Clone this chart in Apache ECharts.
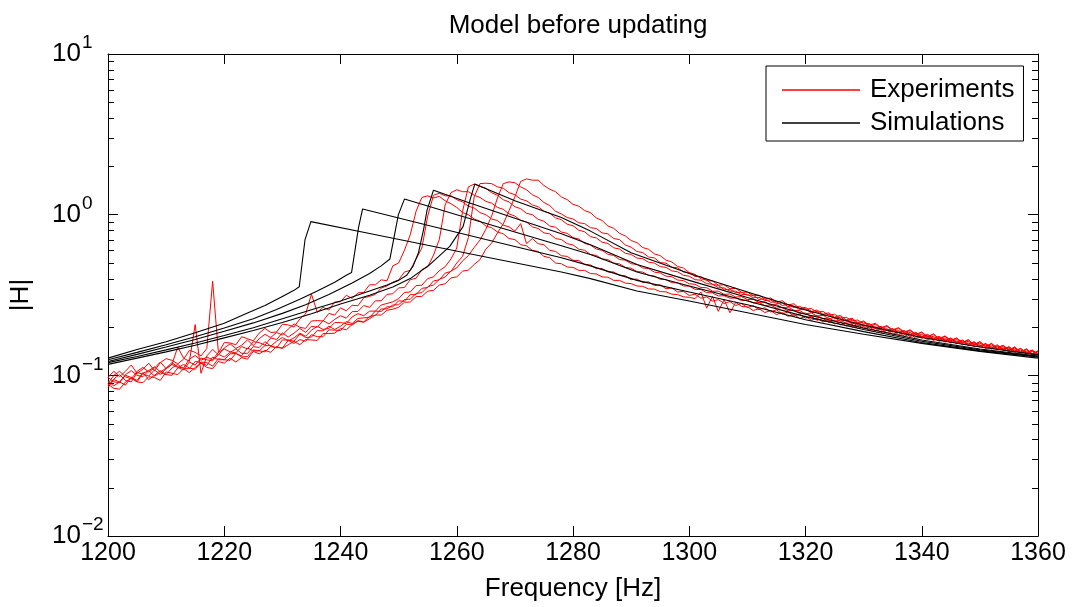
<!DOCTYPE html>
<html><head><meta charset="utf-8">
<script src="https://cdn.jsdelivr.net/npm/echarts@6/dist/echarts.min.js"></script>
<style>html,body{margin:0;padding:0;background:#fff}#c{width:1075px;height:607px}</style>
</head><body><div id="c"></div>
<script>
// ---- sampling grid of the measured curves (1 Hz) ----
const expFreq = Array.from({length: 161}, (_, i) => 1200 + i);

// ---- Experiments (red), |H| per Hz from 1200 to 1360 ----
const exp1 = [
.097,.106,.098,.106,.116,.103,.109,.119,.107,.120,
.127,.124,.118,.126,.143,.139,.132,.147,.385,.138,
.160,.159,.155,.174,.169,.164,.183,.196,.185,.186,
.208,.206,.200,.224,.241,.32,.247,.265,.255,.286,
.287,.315,.301,.326,.328,.366,.366,.393,.388,.48,
.50,.60,.75,1.05,1.28,1.31,1.27,1.30,1.22,1.17,
1.11,1.03,1.00,.94,.91,.85,.83,.78,.76,.71,
.70,.65,.64,.60,.59,.55,.54,.50,.495,.472,
.47,.45,.45,.43,.428,.41,.408,.39,.39,.375,
.372,.36,.358,.345,.344,.332,.331,.32,.318,.308,
.306,.30,.33,.262,.31,.25,.296,.245,.285,.268,
.267,.253,.260,.246,.253,.239,.246,.233,.239,.226,
.233,.220,.227,.215,.220,.209,.214,.203,.208,.196,
.201,.190,.196,.185,.191,.180,.186,.175,.181,.170,
.175,.167,.171,.163,.167,.159,.163,.155,.159,.151,
.155,.147,.151,.144,.148,.140,.145,.137,.141,.134,.136];
const exp2 = [
.089,.100,.106,.098,.095,.106,.112,.105,.111,.121,
.110,.117,.150,.128,.122,.207,.103,.132,.145,.134,
.148,.157,.147,.154,.166,.153,.169,.180,.172,.185,
.178,.194,.209,.199,.196,.218,.219,.218,.243,.237,
.263,.252,.273,.271,.304,.31,.319,.349,.36,.38,
.392,.44,.45,.53,.62,.98,1.32,1.36,1.31,1.31,
1.24,1.20,1.13,1.10,1.03,1.00,.94,.92,.86,.84,
.79,.88,.66,.71,.66,.65,.60,.59,.555,.55,
.52,.518,.49,.486,.462,.462,.44,.44,.418,.416,
.394,.398,.378,.382,.362,.366,.346,.35,.33,.333,
.314,.32,.302,.308,.29,.296,.28,.288,.272,.28,
.264,.272,.256,.264,.248,.256,.241,.248,.234,.24,
.227,.233,.22,.226,.213,.22,.206,.213,.2,.207,
.195,.2,.189,.195,.184,.19,.179,.185,.174,.18,
.17,.176,.165,.171,.161,.167,.157,.163,.153,.159,
.15,.155,.146,.151,.143,.148,.139,.144,.136,.141,.134];
const exp3 = [
.097,.091,.090,.101,.107,.100,.098,.107,.113,.105,
.111,.120,.113,.111,.126,.133,.124,.130,.125,.139,
.146,.140,.138,.151,.146,.162,.160,.154,.171,.167,
.184,.173,.183,.196,.185,.202,.199,.219,.209,.223,
.235,.227,.249,.250,.272,.265,.291,.291,.319,.322,
.35,.352,.394,.402,.455,.473,.56,.70,1.15,1.37,
1.43,1.39,1.39,1.32,1.28,1.21,1.18,1.11,1.08,1.01,
.98,.92,.90,.84,.82,.77,.76,.71,.70,.66,
.648,.61,.60,.565,.558,.53,.525,.50,.494,.47,
.464,.443,.439,.419,.415,.396,.394,.377,.376,.36,
.359,.343,.342,.327,.326,.312,.313,.302,.303,.292,
.294,.282,.284,.272,.274,.262,.264,.252,.254,.242,
.244,.233,.236,.225,.228,.217,.221,.21,.214,.203,
.207,.197,.201,.191,.195,.186,.19,.18,.185,.175,
.18,.171,.175,.166,.171,.162,.167,.158,.163,.154,
.159,.15,.155,.146,.151,.143,.148,.139,.144,.136,.14];
const exp4 = [
.086,.095,.101,.093,.091,.104,.102,.099,.108,.101,
.110,.117,.112,.108,.121,.116,.128,.125,.123,.135,
.130,.139,.146,.137,.137,.151,.149,.162,.152,.163,
.172,.164,.171,.183,.175,.191,.202,.193,.196,.213,
.213,.210,.231,.242,.235,.251,.251,.274,.28,.287,
.30,.328,.33,.362,.364,.40,.41,.448,.474,.53,
.62,1.05,1.49,1.55,1.50,1.46,1.37,1.32,1.24,1.20,
1.12,1.09,1.02,1.00,.935,.91,.85,.835,.78,.765,
.72,.705,.662,.647,.611,.60,.567,.557,.526,.521,
.495,.49,.466,.462,.439,.434,.414,.411,.392,.389,
.371,.369,.352,.351,.334,.334,.319,.321,.307,.309,
.296,.298,.284,.287,.273,.276,.263,.266,.254,.253,
.241,.245,.233,.237,.225,.229,.217,.221,.209,.214,
.202,.207,.196,.201,.19,.195,.185,.19,.179,.185,
.174,.18,.169,.175,.165,.171,.161,.166,.156,.162,
.152,.158,.148,.155,.145,.151,.141,.147,.138,.143,.134];
const exp5 = [
.092,.086,.091,.100,.097,.091,.103,.107,.099,.104,
.101,.111,.117,.110,.110,.122,.120,.115,.130,.125,
.125,.136,.137,.132,.148,.142,.142,.153,.153,.148,
.166,.166,.163,.181,.172,.173,.190,.189,.202,.193,
.202,.216,.210,.226,.228,.229,.251,.250,.267,.267,
.291,.289,.318,.318,.348,.352,.387,.393,.433,.443,
.50,.55,.72,1.29,1.56,1.57,1.56,1.49,1.46,1.37,
1.33,1.25,1.22,1.15,1.12,1.05,1.02,.955,.93,.872,
.853,.80,.783,.73,.717,.674,.662,.622,.611,.575,
.566,.537,.532,.506,.50,.475,.47,.447,.441,.419,
.414,.394,.391,.372,.369,.351,.35,.334,.334,.318,
.319,.304,.306,.292,.294,.28,.282,.268,.27,.256,
.26,.245,.25,.235,.24,.226,.231,.217,.223,.209,
.215,.201,.208,.195,.202,.19,.196,.184,.19,.179,
.185,.173,.18,.168,.175,.164,.17,.159,.166,.155,
.162,.151,.158,.147,.154,.144,.15,.14,.146,.136,.141];
const exp6 = [
.084,.094,.091,.087,.097,.093,.104,.094,.100,.107,
.101,.100,.111,.117,.111,.109,.121,.120,.114,.127,
.125,.124,.137,.130,.131,.144,.142,.140,.151,.149,
.148,.165,.158,.167,.163,.179,.174,.174,.192,.191,
.190,.208,.206,.219,.215,.233,.236,.259,.259,.274,
.275,.296,.298,.323,.327,.356,.365,.396,.409,.446,
.466,.516,.556,.625,.695,.81,.98,1.27,1.56,1.60,
1.58,1.49,1.43,1.33,1.28,1.19,1.14,1.05,1.01,.96,
.94,.89,.88,.83,.82,.77,.76,.71,.70,.648,
.628,.59,.581,.545,.538,.503,.499,.471,.467,.44,
.436,.412,.412,.388,.387,.364,.366,.346,.348,.328,
.33,.312,.316,.298,.303,.286,.291,.274,.279,.261,
.265,.25,.255,.24,.245,.23,.236,.221,.227,.212,
.218,.205,.211,.198,.204,.192,.198,.186,.192,.18,
.186,.174,.181,.169,.176,.165,.171,.16,.167,.155,
.162,.151,.158,.147,.154,.143,.15,.139,.146,.136,.142];
const exp7 = [
.088,.083,.082,.091,.096,.091,.090,.098,.097,.093,
.105,.103,.101,.110,.104,.112,.119,.112,.110,.122,
.119,.128,.121,.129,.126,.141,.136,.143,.139,.151,
.147,.155,.163,.155,.167,.166,.165,.182,.182,.183,
.196,.192,.207,.217,.214,.225,.238,.237,.254,.258,
.265,.285,.286,.309,.31,.334,.338,.365,.371,.404,
.41,.445,.452,.49,.525,.61,.665,.77,.875,1.06,
1.29,1.61,1.67,1.64,1.64,1.52,1.44,1.39,1.29,1.24,
1.16,1.13,1.06,1.03,.955,.92,.85,.823,.765,.737,
.69,.67,.624,.609,.57,.556,.521,.508,.476,.465,
.436,.425,.399,.392,.368,.363,.341,.343,.327,.329,
.315,.316,.297,.299,.285,.287,.272,.276,.264,.269,
.257,.261,.247,.25,.237,.24,.227,.23,.218,.221,
.209,.21,.198,.201,.191,.195,.185,.189,.179,.183,
.173,.178,.169,.173,.164,.169,.16,.165,.156,.161,
.152,.157,.148,.153,.145,.15,.142,.147,.138,.144,.136];

// ---- Simulations (black): frequency / |H| pairs ----
const simFreq1 = [1200,1205,1210,1215,1220,1224,1227,1230,1232,1232.9,1233.9,1234.9,1245,1255,1265,1278,1283,1291,1300,1310,1320,1330,1340,1350,1360];
const sim1     = [.128,.145,.162,.184,.211,.244,.272,.310,.338,.356,.70,.905,.764,.645,.545,.44,.40,.335,.29,.245,.207,.180,.158,.141,.128];
const simFreq2 = [1200,1205,1210,1215,1220,1225,1229,1233,1236,1239,1241,1241.9,1243.1,1243.8,1255,1265,1278,1283,1291,1300,1310,1320,1330,1340,1350,1360];
const sim2     = [.125,.139,.155,.174,.197,.225,.257,.298,.335,.38,.42,.436,.83,1.085,.86,.70,.54,.48,.39,.33,.275,.222,.187,.160,.142,.130];
const simFreq3 = [1200,1205,1210,1215,1220,1225,1230,1234,1238,1242,1245,1247,1248.5,1249.96,1251,1260,1270,1278,1283,1291,1300,1310,1320,1330,1340,1350,1360];
const sim3     = [.122,.135,.150,.167,.188,.212,.243,.275,.318,.375,.43,.48,.53,1.0,1.25,1.0,.78,.64,.565,.44,.36,.29,.232,.193,.163,.144,.131];
const simFreq4 = [1200,1205,1210,1215,1220,1225,1230,1235,1240,1244,1248,1250,1251.4,1252.5,1253.4,1254.3,1254.9,1256,1262,1270,1278,1283,1291,1300,1310,1320,1330,1340,1350,1360];
const sim4     = [.120,.131,.144,.159,.177,.198,.225,.256,.29,.325,.365,.39,.42,.48,.577,.81,1.07,1.42,1.19,.95,.76,.65,.49,.39,.305,.24,.197,.166,.146,.132];
const simFreq5 = [1200,1205,1210,1215,1220,1225,1230,1235,1240,1245,1249,1252,1255.4,1258.8,1261.1,1262.3,1263.1,1270,1278,1283,1290,1300,1310,1320,1330,1340,1350,1360];
const sim5     = [.117,.128,.140,.154,.171,.190,.213,.242,.278,.315,.355,.40,.49,.635,.846,1.24,1.55,1.22,.96,.79,.58,.43,.33,.255,.205,.172,.150,.134];

// ---- axes ----
const xTickStep = 20;
const minorTickValues = [0.02,0.03,0.04,0.05,0.06,0.07,0.08,0.09,0.2,0.3,0.4,0.5,0.6,0.7,0.8,0.9,2,3,4,5,6,7,8,9];

const FONT = '"Liberation Sans", Arial, Helvetica, sans-serif';
const chart = echarts.init(document.getElementById('c'), null, {renderer: 'canvas'});

const expSets = [exp1, exp2, exp3, exp4, exp5, exp6, exp7];
const simSets = [[simFreq1, sim1], [simFreq2, sim2], [simFreq3, sim3], [simFreq4, sim4], [simFreq5, sim5]];

const series = [];
expSets.forEach(vals => {
  series.push({
    name: 'Experiments', type: 'line', symbol: 'none', showSymbol: false,
    data: vals.map((v, i) => [expFreq[i], v]),
    lineStyle: {color: '#ff0000', width: 1}, itemStyle: {color: '#ff0000'},
    emphasis: {disabled: true}, z: 2
  });
});
simSets.forEach(([f, vals]) => {
  series.push({
    name: 'Simulations', type: 'line', symbol: 'none', showSymbol: false,
    data: vals.map((v, i) => [f[i], v]),
    lineStyle: {color: '#000000', width: 1.1}, itemStyle: {color: '#000000'},
    emphasis: {disabled: true}, z: 3
  });
});
series.push({
  name: 'minorTicks', type: 'custom', silent: true, clip: false, z: 4,
  data: minorTickValues.map(v => [1200, v]),
  renderItem: (params, api) => {
    const v = api.value(1);
    const L = api.coord([1200, v]);
    const R = api.coord([1360, v]);
    const y = Math.round(L[1]) + 0.5;
    return {type: 'group', children: [
      {type: 'line', shape: {x1: L[0], y1: y, x2: L[0] + 6, y2: y}, style: {stroke: '#000', lineWidth: 1}},
      {type: 'line', shape: {x1: R[0] - 6, y1: y, x2: R[0], y2: y}, style: {stroke: '#000', lineWidth: 1}}
    ]};
  }
});

const supFmt = v => {
  const e = Math.round(Math.log10(v));
  return '{b|10}{s|' + (e < 0 ? '\u2212' + (-e) : e) + '}';
};

const option = {
  animation: false,
  backgroundColor: '#ffffff',
  title: {
    text: 'Model before updating', left: 573, top: 8, textAlign: 'center',
    textStyle: {fontFamily: FONT, fontSize: 26, fontWeight: 'normal', color: '#000'}
  },
  legend: {
    orient: 'vertical', left: 766, top: 66, padding: [11, 9, 5, 16], itemGap: 7,
    itemWidth: 78, itemHeight: 1.5, icon: 'rect',
    backgroundColor: '#fff', borderColor: '#000', borderWidth: 1,
    selectedMode: false,
    textStyle: {fontFamily: FONT, fontSize: 26, color: '#000', padding: [0, 0, 0, 5]},
    data: ['Experiments', 'Simulations']
  },
  grid: {left: 108, right: 37, top: 54, bottom: 70, containLabel: false},
  xAxis: [
    {
      type: 'value', min: 1200, max: 1360, interval: xTickStep, position: 'bottom',
      axisLine: {show: true, onZero: false, lineStyle: {color: '#000', width: 1}},
      axisTick: {show: true, inside: true, length: 10, lineStyle: {color: '#000', width: 1}},
      axisLabel: {color: '#000', fontFamily: FONT, fontSize: 25, margin: 5, showMinLabel: true, showMaxLabel: true,
                  formatter: v => String(v)},
      splitLine: {show: false},
      name: 'Frequency [Hz]', nameLocation: 'middle', nameGap: 40,
      nameTextStyle: {fontFamily: FONT, fontSize: 26, color: '#000'}
    },
    {
      type: 'value', min: 1200, max: 1360, interval: xTickStep, position: 'top',
      axisLine: {show: true, onZero: false, lineStyle: {color: '#000', width: 1}},
      axisTick: {show: true, inside: true, length: 10, lineStyle: {color: '#000', width: 1}},
      axisLabel: {show: false}, splitLine: {show: false}
    }
  ],
  yAxis: [
    {
      type: 'log', logBase: 10, min: 0.01, max: 10, splitNumber: 3, position: 'left',
      axisLine: {show: true, onZero: false, lineStyle: {color: '#000', width: 1}},
      axisTick: {show: true, inside: true, length: 10, lineStyle: {color: '#000', width: 1}},
      axisLabel: {
        color: '#000', align: 'left', margin: 56, formatter: supFmt,
        rich: {
          b: {fontFamily: FONT, fontSize: 26, color: '#000'},
          s: {fontFamily: FONT, fontSize: 19, color: '#000', padding: [0, 0, 22, 1]}
        }
      },
      splitLine: {show: false},
      name: '|H|', nameLocation: 'middle', nameGap: 74, nameRotate: 90,
      nameTextStyle: {fontFamily: FONT, fontSize: 26, color: '#000'}
    },
    {
      type: 'log', logBase: 10, min: 0.01, max: 10, splitNumber: 3, position: 'right',
      axisLine: {show: true, onZero: false, lineStyle: {color: '#000', width: 1}},
      axisTick: {show: true, inside: true, length: 10, lineStyle: {color: '#000', width: 1}},
      axisLabel: {show: false}, splitLine: {show: false}
    }
  ],
  series: series
};
chart.setOption(option);
</script>
</body></html>
